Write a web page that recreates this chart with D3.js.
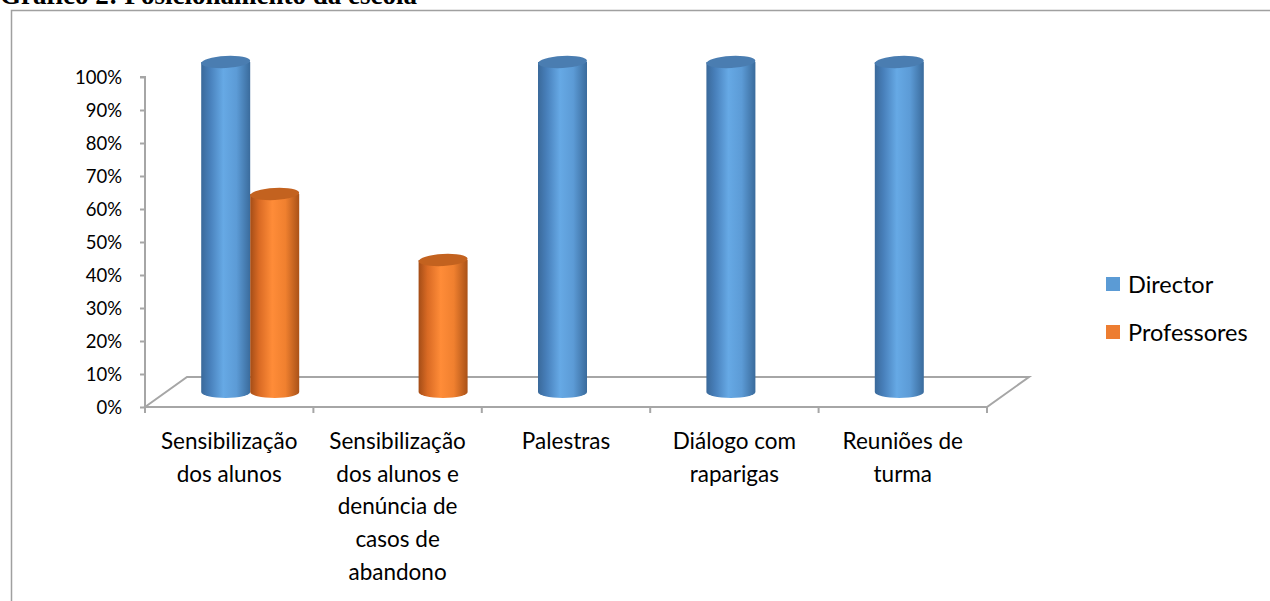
<!DOCTYPE html>
<html>
<head>
<meta charset="utf-8">
<script src="https://cdn.jsdelivr.net/npm/d3@7"></script>
<style>
  body { margin: 0; background: #fff; }
  svg { display: block; }
  .tick text { font-family: Lato, "Open Sans", sans-serif; }
</style>
</head>
<body>
<div id="chart"></div>
<script>
var categories = [
  ["Sensibilização", "dos alunos"],
  ["Sensibilização", "dos alunos e", "denúncia de", "casos de", "abandono"],
  ["Palestras"],
  ["Diálogo com", "raparigas"],
  ["Reuniões de", "turma"]
];
var series = ["Director", "Professores"];
var director = [1.0, null, 1.0, 1.0, 1.0];
var professores = [0.6, 0.4, null, null, null];
var yTicks = [0, 0.1, 0.2, 0.3, 0.4, 0.5, 0.6, 0.7, 0.8, 0.9, 1.0];

var W = 1270, H = 601;
var axisColor = "#a6a6a6";
var legendColors = { "Director": "#5b9bd5", "Professores": "#ed7d31" };

var svg = d3.select("#chart").append("svg")
  .attr("width", W).attr("height", H);

// frame + title
svg.append("path")
  .attr("d", "M11.5,601 L11.5,10.5 L1270,10.5")
  .attr("fill", "none").attr("stroke", "#a0a0a0").attr("stroke-width", 1.5);
svg.append("text")
  .attr("x", 0).attr("y", 4)
  .style("font-family", "'Liberation Serif', 'Times New Roman', serif")
  .style("font-weight", "bold").style("font-size", "27px")
  .text("Gráfico 2: Posicionamento da escola");

var x = d3.scaleBand()
  .domain(d3.range(categories.length))
  .range([145, 987]);
var y = d3.scaleLinear().domain([0, 1]).range([407, 77]);
var inner = d3.scaleBand().domain(series).range([-49, 49]);

var depthX = 42, depthY = -30;

// floor
var g = svg.append("g");
g.append("path")
  .attr("d", "M" + x.range()[0] + "," + y(0) +
    " L" + (x.range()[0] + depthX) + "," + (y(0) + depthY) +
    " L" + (x.range()[1] + depthX) + "," + (y(0) + depthY) +
    " L" + x.range()[1] + "," + y(0) + " Z")
  .attr("fill", "none").attr("stroke", axisColor).attr("stroke-width", 2);

var yAxis = d3.axisLeft(y).tickValues(yTicks).tickFormat(d3.format(".0%")).tickSize(5).tickPadding(18);
var ya = svg.append("g").attr("transform", "translate(145,0)").call(yAxis);
ya.select(".domain").attr("stroke", axisColor).attr("stroke-width", 2).attr("d", "M-5," + y(1) + "H0V" + y(0));
ya.selectAll(".tick line").attr("stroke", axisColor).attr("stroke-width", 2);
ya.selectAll(".tick text").style("font-size", "18.5px").attr("fill", "#000").attr("dy", "0.36em");

// category ticks
var catTicks = x.domain().map(function (d) { return x(d); }).concat([x.range()[1]]);
svg.append("g").selectAll("line").data(catTicks).enter().append("line")
  .attr("x1", function (d) { return d; }).attr("x2", function (d) { return d; })
  .attr("y1", y(0)).attr("y2", y(0) + 6)
  .attr("stroke", axisColor).attr("stroke-width", 2);

// category labels
var lab = svg.append("g").selectAll("text").data(categories).enter().append("text")
  .attr("x", function (d, i) { return x(i) + x.bandwidth() / 2; })
  .attr("y", 449)
  .attr("text-anchor", "middle")
  .style("font-family", "Lato, 'Open Sans', sans-serif").style("font-size", "22.5px");
lab.selectAll("tspan").data(function (d) { return d; }).enter().append("tspan")
  .attr("x", function () { return d3.select(this.parentNode).attr("x"); })
  .attr("dy", function (d, i) { return i === 0 ? 0 : 32.7; })
  .text(function (d) { return d; });

// gradients
var defs = svg.append("defs");
var grads = {
  "Director": { body: ["#3a699a", "#4880bb", "#66a9e5", "#5c9bd6", "#3a6b9c"], top: "#4a7db1" },
  "Professores": { body: ["#a44d17", "#d96a24", "#ff8c38", "#f0802f", "#aa5218"], top: "#c3621f" }
};
series.forEach(function (s) {
  var lg = defs.append("linearGradient").attr("id", "g-" + s)
    .attr("x1", "0").attr("x2", "1").attr("y1", "0").attr("y2", "0");
  [0, 0.18, 0.45, 0.72, 1].forEach(function (o, i) {
    lg.append("stop").attr("offset", o).attr("stop-color", grads[s].body[i]);
  });
});

var data = [];
categories.forEach(function (c, i) {
  if (director[i] != null) data.push({ cat: i, s: "Director", v: director[i] });
  if (professores[i] != null) data.push({ cat: i, s: "Professores", v: professores[i] });
});

function cxOf(d) {
  return x(d.cat) + x.bandwidth() / 2 + depthX / 2 + inner(d.s) + inner.bandwidth() / 2;
}

var rx = 24.5, ry = 6;
var bars = svg.append("g").selectAll("g").data(data).enter().append("g");
bars.append("path")
  .attr("d", function (d) {
    var cx = cxOf(d);
    var l = cx - rx, r = cx + rx;
    var top = y(d.v) + depthY / 2, base = y(0) + depthY / 2;
    return "M" + l + "," + top + " L" + l + "," + base +
      " A" + rx + "," + ry + " 0 0 0 " + r + "," + base +
      " L" + r + "," + top + " Z";
  })
  .attr("fill", function (d) { return "url(#g-" + d.s + ")"; });
bars.append("ellipse")
  .attr("cx", cxOf)
  .attr("cy", function (d) { return y(d.v) + depthY / 2; })
  .attr("rx", rx).attr("ry", ry)
  .attr("transform", function (d) {
    return "rotate(-3," + cxOf(d) + "," + (y(d.v) + depthY / 2) + ")";
  })
  .attr("fill", function (d) { return grads[d.s].top; });

// legend
var leg = svg.append("g").selectAll("g").data(series).enter().append("g")
  .attr("transform", function (d, i) { return "translate(1106," + (277 + i * 48) + ")"; });
leg.append("rect").attr("width", 14).attr("height", 14)
  .attr("fill", function (d) { return legendColors[d]; });
leg.append("text").attr("x", 22).attr("y", 15.5)
  .style("font-family", "Lato, 'Open Sans', sans-serif").style("font-size", "23.5px")
  .text(function (d) { return d; });
</script>
</body>
</html>
